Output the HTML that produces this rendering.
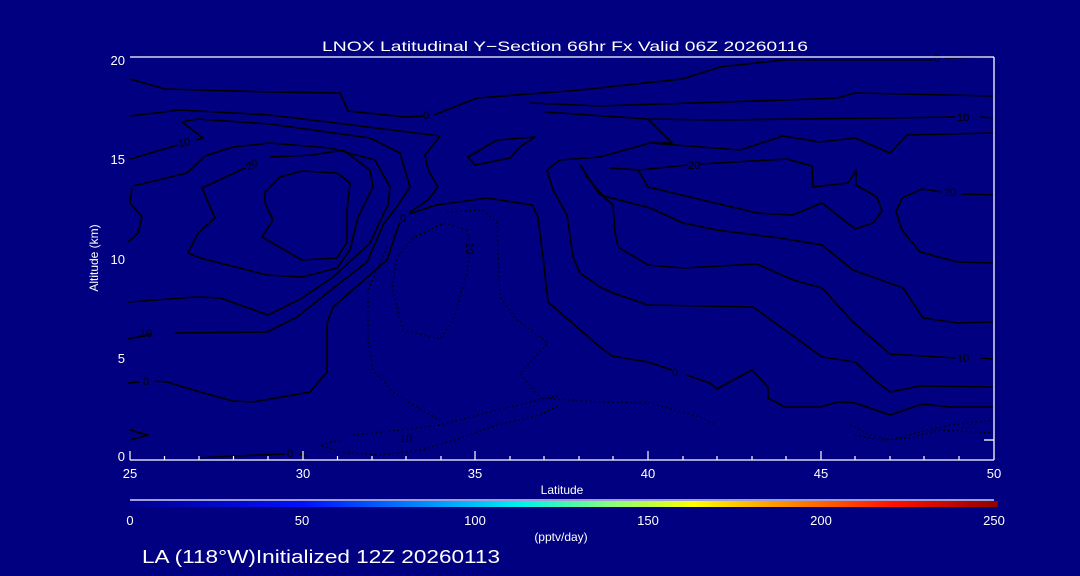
<!DOCTYPE html>
<html><head><meta charset="utf-8"><style>
html,body{margin:0;padding:0;background:#000080;}
svg{display:block}
text{font-family:"Liberation Sans",sans-serif;fill:#fff}
text.k{fill:#000}
</style></head><body>
<svg width="1080" height="576" viewBox="0 0 1080 576" xmlns="http://www.w3.org/2000/svg">
<defs>
<linearGradient id="jet" x1="0" x2="1" y1="0" y2="0">
<stop offset="0" stop-color="#000090"/>
<stop offset="0.2" stop-color="#0010ff"/>
<stop offset="0.38" stop-color="#00b0ff"/>
<stop offset="0.45" stop-color="#00f0f0"/>
<stop offset="0.55" stop-color="#80ff80"/>
<stop offset="0.65" stop-color="#ffff00"/>
<stop offset="0.72" stop-color="#ffb000"/>
<stop offset="0.88" stop-color="#ff1000"/>
<stop offset="1" stop-color="#900000"/>
</linearGradient>
</defs>
<rect width="1080" height="576" fill="#000080"/>
<text x="322" y="51" font-size="14" textLength="486" lengthAdjust="spacingAndGlyphs">LNOX Latitudinal Y−Section 66hr  Fx Valid 06Z 20260116</text>

<g fill="none" stroke="#000" stroke-width="1.6" stroke-linejoin="round">
<polyline points="130,79 165,89 270,92 340,93 348,111 405,117 423,116"/>
<polyline points="434,115 477,98 580,90 682,79 720,67 782,60 933,60"/>
<polyline points="945,58 985,57"/>
<polyline points="130,116 180,110 270,115 352,125 440,136 425,155 428,170 438,187 428,200 410,212"/>
<polyline points="130,159 178,145"/>
<polyline points="196,140 203,138 182,122 197,119 270,124 370,138 400,153 410,187 398,205 383,225 367,262 327,293 297,317 267,332 175,333"/>
<polyline points="152,334 128,339"/>
<polyline points="133,186 187,173 205,156 233,147 270,143 330,148 375,160 390,187 388,205 383,215 370,243 333,277 302,298 268,315 220,298 197,297 128,302"/>
<polyline points="132,187 130,203 142,217 138,233 128,242"/>
<polyline points="245,168 202,188 215,218 198,233 188,253 200,258 267,275 302,277 337,268 350,250 358,217 373,187 370,170 343,150 313,155 270,157"/>
<polygon points="265,192 280,177 302,171 337,173 350,183 347,210 347,242 337,258 302,260 262,237 273,220 265,203"/>
<polyline points="128,383 140,382"/>
<polyline points="155,381 167,382 200,392 233,401 253,402 310,392 327,372 327,323 333,307 387,260 397,230 400,222"/>
<polyline points="409,214 436,205 487,198 532,205 538,217 543,257 548,302 600,347 612,356 648,362 672,370"/>
<polyline points="686,375 710,383 717,389 752,370 768,387 768,398 785,407 820,407 838,402 855,403 890,415 922,404 950,407 994,407"/>
<polygon points="468,157 497,140 535,137 520,147 510,158 475,165"/>
<polyline points="530,103 600,106 785,100 837,98 855,93 993,96"/>
<polyline points="545,112 648,119 717,120 890,118 955,117"/>
<polyline points="980,117 993,118"/>
<polyline points="648,119 672,143 650,143"/>
<polyline points="993,133 907,135 890,153 855,138 820,142 783,136 740,150 650,143 600,157 560,160 547,170 553,190 567,215 573,257 580,273 600,287 613,293 648,305 753,307 785,330 822,357 855,362 877,382 890,392 920,386 993,387"/>
<polyline points="580,165 600,195 650,208 683,223 717,230 780,238 822,245 853,270 903,288 923,318 958,323 993,322"/>
<polyline points="585,175 605,198 613,205 615,232 618,247 648,265 683,268 757,264 793,280 822,288 853,322 890,354 955,358"/>
<polyline points="980,358 993,359"/>
<polyline points="610,168 638,170 688,165"/>
<polyline points="700,164 787,159 812,166 813,187 848,183 856,170 856,185 877,197 882,211 873,223 855,229 822,203 793,215 757,213 648,187 638,170"/>
<polyline points="993,195 962,194"/>
<polyline points="942,192 922,189 902,198 896,212 902,230 920,252 958,262 993,263"/>
<polyline points="197,458 233,456 285,454"/>
<polyline points="300,454 307,456"/>
<polyline points="130,430 148,435 130,440"/>
</g>
<g fill="none" stroke="#000" stroke-width="1.3" stroke-dasharray="1.5,3">
<polygon points="467,230 443,223 413,238 397,257 392,287 403,330 440,339 453,320 467,273 470,247"/>
<polyline points="447,212 483,210 497,223 500,297 517,320 548,343 520,373 540,398 600,402 650,403 700,417 715,425"/>
<polyline points="387,247 368,290 368,340 373,370 393,392 410,403 427,413 440,420"/>
<polyline points="340,440 320,445 340,452 380,455 420,450 455,440 497,425 540,415 560,405"/>
<polyline points="353,435 400,430 440,425 497,410 560,395"/>
<polyline points="850,425 870,435 890,440 920,432 950,425 994,420"/>
<polyline points="855,435 880,440 910,438 940,430 994,433"/>
</g>
<g font-size="11">
<text class="k" x="423" y="119">0</text><text class="k" x="934" y="62">0</text>
<text class="k" x="178" y="146" transform="rotate(-15 185 142)">10</text>
<text class="k" x="245" y="168" transform="rotate(-30 252 163)">20</text>
<text class="k" x="400" y="222">0</text>
<text class="k" x="672" y="376">0</text>
<text class="k" x="140" y="337">10</text>
<text class="k" x="143" y="385">0</text>
<text class="k" x="957" y="121">10</text>
<text class="k" x="957" y="362">10</text>
<text class="k" x="944" y="196">20</text>
<text class="k" x="688" y="169">20</text>
<text class="k" x="287" y="457">0</text>
<text class="k" x="400" y="442">10</text>
<text class="k" x="0" y="0" transform="translate(466,236) rotate(90)">−10</text>
</g>

<g stroke="#fff" stroke-width="1.3" fill="none">
<line x1="130" y1="57" x2="994" y2="57"/>
<line x1="994" y1="57" x2="994" y2="460"/>
<line x1="130" y1="460" x2="994" y2="460"/>
<line x1="994" y1="440" x2="984" y2="440"/>
<line x1="130" y1="500" x2="994" y2="500"/>
</g>
<g stroke="#fff" stroke-width="1.2">
<line x1="130" y1="460" x2="130" y2="451"/>
<line x1="303" y1="460" x2="303" y2="451"/>
<line x1="475" y1="460" x2="475" y2="451"/>
<line x1="648" y1="460" x2="648" y2="451"/>
<line x1="821" y1="460" x2="821" y2="451"/>
<line x1="164.5" y1="460" x2="164.5" y2="456"/><line x1="199" y1="460" x2="199" y2="456"/><line x1="233.5" y1="460" x2="233.5" y2="456"/><line x1="268" y1="460" x2="268" y2="456"/>
<line x1="337.5" y1="460" x2="337.5" y2="456"/><line x1="372" y1="460" x2="372" y2="456"/><line x1="406" y1="460" x2="406" y2="456"/><line x1="441" y1="460" x2="441" y2="456"/>
<line x1="510" y1="460" x2="510" y2="456"/><line x1="544" y1="460" x2="544" y2="456"/><line x1="579" y1="460" x2="579" y2="456"/><line x1="613" y1="460" x2="613" y2="456"/>
<line x1="683" y1="460" x2="683" y2="456"/><line x1="717" y1="460" x2="717" y2="456"/><line x1="752" y1="460" x2="752" y2="456"/><line x1="786" y1="460" x2="786" y2="456"/>
<line x1="855" y1="460" x2="855" y2="456"/><line x1="890" y1="460" x2="890" y2="456"/><line x1="924" y1="460" x2="924" y2="456"/><line x1="959" y1="460" x2="959" y2="456"/>
</g>
<rect x="130" y="501" width="868" height="6" fill="url(#jet)"/>

<g font-size="13" text-anchor="end">
<text x="125" y="65">20</text><text x="125" y="164">15</text><text x="125" y="264">10</text><text x="125" y="363">5</text><text x="125" y="461">0</text>
</g>
<g font-size="13" text-anchor="middle">
<text x="130" y="478">25</text><text x="303" y="478">30</text><text x="475" y="478">35</text><text x="648" y="478">40</text><text x="821" y="478">45</text><text x="994" y="478">50</text>
<text x="130" y="525">0</text><text x="302" y="525">50</text><text x="475" y="525">100</text><text x="648" y="525">150</text><text x="821" y="525">200</text><text x="994" y="525">250</text>
<text x="562" y="494" font-size="12">Latitude</text>
<text x="561" y="541" font-size="12">(pptv/day)</text>
<text x="0" y="0" font-size="12" transform="translate(98,258) rotate(-90)">Altitude (km)</text>
</g>
<text x="142" y="563" font-size="18" textLength="358" lengthAdjust="spacingAndGlyphs">LA (118°W)Initialized 12Z 20260113</text>
</svg>
</body></html>
